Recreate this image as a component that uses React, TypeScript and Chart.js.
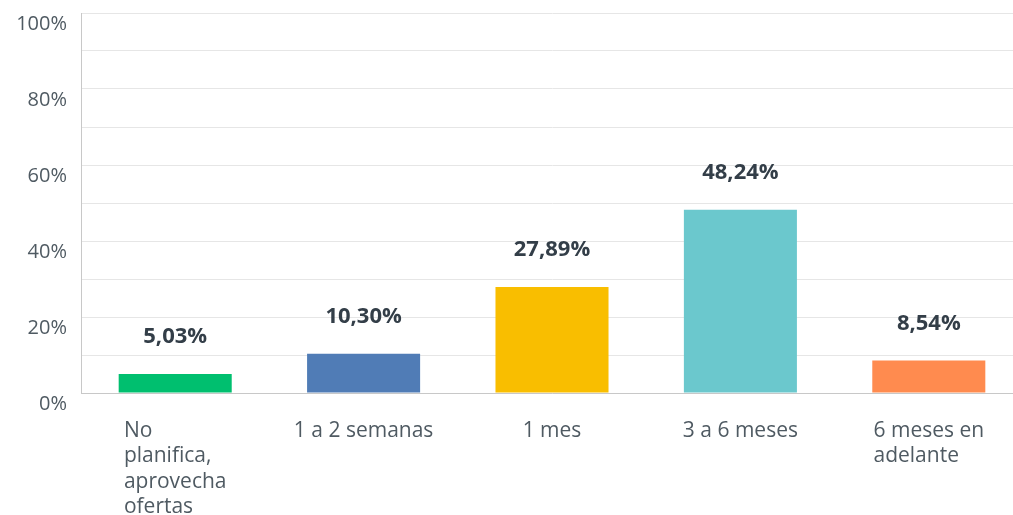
import React, { useEffect, useRef } from "react";
import { Chart, registerables } from "chart.js";

Chart.register(...registerables);

const categories: string[][] = [
  ["No", "planifica,", "aprovecha", "ofertas"],
  ["1 a 2 semanas"],
  ["1 mes"],
  ["3 a 6 meses"],
  ["6 meses en", "adelante"],
];
const values: number[] = [5.03, 10.3, 27.89, 48.24, 8.54];
const valueLabels: string[] = ["5,03%", "10,30%", "27,89%", "48,24%", "8,54%"];
const barColors: string[] = ["#00BF6F", "#507CB6", "#F9BE00", "#6BC8CD", "#FF8B4F"];

const FONT = "'Open Sans', 'Noto Sans', sans-serif";
const TEXT = "#333e48";
const TICK = "#4f5a62";

const labelsPlugin = {
  id: "customLabels",
  afterDatasetsDraw(chart: any) {
    const ctx = chart.ctx;
    const meta = chart.getDatasetMeta(0);
    const xScale = chart.scales.x;
    ctx.save();
    // value labels above bars
    ctx.font = `bold 22px ${FONT}`;
    ctx.fillStyle = TEXT;
    ctx.textAlign = "center";
    ctx.textBaseline = "middle";
    meta.data.forEach((bar: any, i: number) => {
      ctx.fillText(valueLabels[i], bar.x, bar.y - 37);
    });
    // category labels: block centered, lines left-aligned
    ctx.font = `21px ${FONT}`;
    ctx.fillStyle = TICK;
    ctx.textAlign = "left";
    ctx.textBaseline = "middle";
    categories.forEach((lines, i) => {
      const cx = xScale.getPixelForValue(i);
      const maxW = Math.max(...lines.map((l) => ctx.measureText(l).width));
      const left = cx - maxW / 2;
      lines.forEach((line, j) => {
        ctx.fillText(line, left, chart.chartArea.bottom + 38 + j * 25.5);
      });
    });
    ctx.restore();
  },
};

export default function App() {
  const ref = useRef<HTMLCanvasElement | null>(null);
  useEffect(() => {
    if (!ref.current) return;
    const chart = new Chart(ref.current, {
      type: "bar",
      data: {
        labels: categories.map((c) => c.join(" ")),
        datasets: [
          {
            data: values,
            backgroundColor: barColors,
            borderWidth: 0,
            barPercentage: 0.6,
            categoryPercentage: 1,
          },
        ],
      },
      options: {
        animation: false,
        responsive: false,
        maintainAspectRatio: false,
        layout: { padding: { top: 13, bottom: 122, left: 0, right: 0 } },
        plugins: {
          legend: { display: false },
          tooltip: { enabled: false },
        },
        scales: {
          x: {
            ticks: { display: false },
            grid: { display: false, drawTicks: false },
            border: { display: true, color: "#c8c8c8", width: 1 },
          },
          y: {
            min: 0,
            max: 100,
            afterFit(scale: any) {
              scale.width = 81;
              scale.paddingTop = 0;
              scale.paddingBottom = 0;
            },
            ticks: {
              stepSize: 10,
              padding: 14,
              labelOffset: 11,
              color: TICK,
              font: { family: FONT, size: 20 },
              callback: (v: any) => (Number(v) % 20 === 0 ? `${v}%` : ""),
            },
            grid: { color: "#e6e6e6", lineWidth: 1, drawTicks: false },
            border: { display: true, color: "#c8c8c8", width: 1 },
          },
        },
      },
      plugins: [labelsPlugin],
    });
    return () => chart.destroy();
  }, []);
  return (
    <div
      style={{
        position: "absolute",
        left: 0,
        top: 0,
        width: 1013,
        height: 515,
        overflow: "hidden",
        background: "#fff",
      }}
    >
      <canvas ref={ref} width={1023} height={515} style={{ display: "block" }} />
    </div>
  );
}
